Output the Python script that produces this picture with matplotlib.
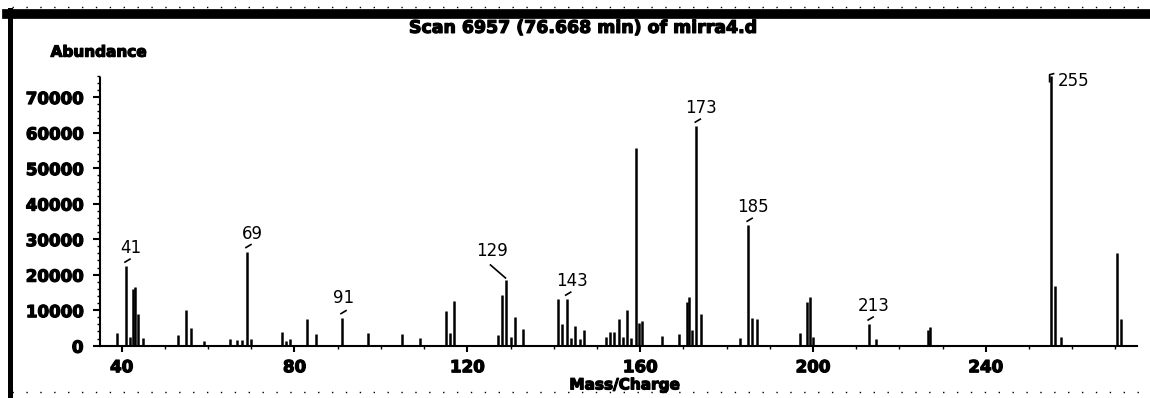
import matplotlib
matplotlib.use('Agg')
import matplotlib.pyplot as plt
import matplotlib.patheffects as pe
from matplotlib.lines import Line2D
from matplotlib.ticker import MultipleLocator
from matplotlib.transforms import ScaledTranslation

# Mass spectrum, scan 6957
masses = [39, 41, 42, 42.7, 43.2, 43.8, 45, 53, 55, 56, 59, 65, 66.7, 67.9, 69, 70,
          77, 78, 79, 83, 85, 91, 97, 105, 109, 115, 116, 117,
          127, 128, 129, 130, 131, 133, 141, 142, 143, 144, 145, 146, 147,
          152, 153, 154, 155, 156, 157, 158, 159, 159.8, 160.5, 165, 169,
          170.9, 171.4, 172, 173, 174, 183, 185, 186, 187,
          197, 198.7, 199.2, 200, 213, 214.5, 226.6, 227.2,
          255, 256, 257.5, 270.4, 271.2]
abundance = [3700, 22400, 2500, 15900, 16400, 8800, 2250, 2900, 10000, 5100, 1400, 1800, 1600, 1700, 26500, 1800,
             3900, 1300, 1800, 7400, 3200, 7900, 3700, 3200, 2100, 9800, 3700, 12700,
             2900, 14300, 18500, 2500, 8200, 4800, 13100, 6000, 13100, 2100, 5500, 1800, 4400,
             2500, 3900, 3900, 7400, 2500, 10000, 2100, 55600, 6300, 7000, 2800, 3300,
             12400, 13600, 4400, 61800, 8900, 2300, 33900, 7900, 7400,
             3700, 12400, 13600, 2500, 6100, 1800, 4400, 5300,
             76000, 16800, 2500, 26200, 7400]
labelled = [41, 69, 91, 129, 143, 173, 185, 213, 255]

title = 'Scan 6957 (76.668 min) of mirra4.d'

heavy = [pe.withStroke(linewidth=0.9, foreground='black')]

fig = plt.figure(figsize=(11.5, 3.98), dpi=100)
fig.patch.set_facecolor('white')
ax = fig.add_axes([0.087, 0.1314, 0.9017, 0.6829])

ax.vlines(masses, 0, abundance, color='black', linewidth=1.8, clip_on=False)

ax.set_xlim(35, 275)
ax.set_ylim(0, 76500)
for s in ['top', 'right']:
    ax.spines[s].set_visible(False)
for s in ['left', 'bottom']:
    ax.spines[s].set_linewidth(1.5)
ax.spines['left'].set_bounds(0, 75400)

ax.xaxis.set_minor_locator(MultipleLocator(10))
ax.yaxis.set_minor_locator(MultipleLocator(2000))
ax.set_xticks(range(40, 241, 40))
ax.set_yticks(range(0, 70001, 10000))
ax.tick_params(axis='x', which='major', direction='out', length=4.5, width=1.5, pad=4.5)
ax.tick_params(axis='x', which='minor', direction='out', length=2.5, width=1.0)
ax.tick_params(axis='y', which='major', direction='out', length=5, width=1.5, pad=7)
ax.tick_params(axis='y', which='minor', direction='out', length=2.5, width=1.0)
for lab in ax.get_xticklabels() + ax.get_yticklabels():
    lab.set_fontweight('bold')
    lab.set_fontsize(12)
    lab.set_path_effects(heavy)


def hook(m, v, xs, ys, lw=1.2):
    # short line drawn in pixel offsets from the top of a peak
    t = fig.dpi_scale_trans + ScaledTranslation(m, v, ax.transData)
    fig.add_artist(Line2D([x / 100 for x in xs], [y / 100 for y in ys],
                          transform=t, color='black', linewidth=lw))


peak = dict(zip(masses, abundance))
for m in labelled:
    v = peak[m]
    if m == 129:
        dx, dy, ha = -14, 29, 'center'
        hook(m, v, [-15.7, -0.7], [15, 2])
    elif m == 255:
        dx, dy, ha = 7, -5, 'left'
        hook(m, v, [-1, -1, 3], [-6, 1, 2])
    else:
        dx, dy, ha = (2, 20, 'center') if m == 91 else (5, 18, 'center')
        hook(m, v, [-1, 4], [4, 7])
    ax.annotate(str(m), xy=(m, v), xytext=(dx * 0.72, dy * 0.72),
                textcoords='offset points', ha=ha, va='center', fontsize=12)

fig.text(0.507, 0.93, title, ha='center', va='center', fontsize=12.5,
         fontweight='bold', path_effects=heavy)
fig.text(0.044, 0.869, 'Abundance', ha='left', va='center', fontsize=11,
         fontweight='bold', path_effects=heavy)
fig.text(0.543, 0.033, 'Mass/Charge', ha='center', va='center', fontsize=11,
         fontweight='bold', path_effects=heavy)

# page frame: heavy bar on top, rule down the left side, dotted edges
fig.add_artist(Line2D([0.006, 1], [0.965, 0.965], color='black', linewidth=7))
fig.add_artist(Line2D([0.0083, 0.0083], [0, 0.975], color='black', linewidth=3.6))
fig.add_artist(Line2D([0.01, 1], [0.982, 0.982], color='black', linewidth=1.0,
                      linestyle=(0, (1, 9))))
fig.add_artist(Line2D([0.01, 1], [0.015, 0.015], color='black', linewidth=1.0,
                      linestyle=(0, (1, 9))))

fig.savefig('out.png', dpi=100)
